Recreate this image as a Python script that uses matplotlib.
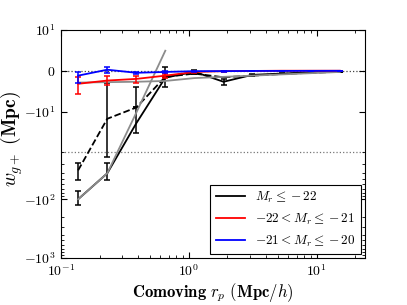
import numpy as np
import matplotlib
matplotlib.use("Agg")
import matplotlib.pyplot as plt
from matplotlib.ticker import FixedLocator, FixedFormatter, NullFormatter

plt.rcParams['mathtext.fontset'] = 'cm'
plt.rcParams['font.family'] = 'serif'
plt.rcParams['font.serif'] = ['DejaVu Serif']

# ---- data ----
r_p = [0.136, 0.230, 0.388, 0.655, 1.105, 1.87, 3.15, 5.32, 8.98, 15.2]

# M_r <= -22 (black, solid)
w_bright = [-100, -41, -12.2, -1.7, -0.25, -2.7, -1.0, -0.7, -0.4, -0.25]
w_bright_lo = [-126, -52, -14.5, -4.1, -0.5, -3.4, -1.3, -0.9, -0.55, -0.35]
w_bright_hi = [-76, -29, -3.9, 1.0, 0.1, -2.0, -0.7, -0.5, -0.25, -0.15]

# black dashed sample
w_dash = [-37, -11.3, -9.0, -1.5, -0.7, -1.6, -1.2, -0.8, -0.5, -0.25]
w_dash_lo = [-52, -23.7, -9.0, -1.5, -0.7, -1.6, -1.2, -0.8, -0.5, -0.25]
w_dash_hi = [-29, -2.9, -9.0, -1.5, -0.7, -1.6, -1.2, -0.8, -0.5, -0.25]

# -22 < M_r <= -21 (red)
w_mid = [-3.2, -2.4, -2.0, -1.2, -0.3, -0.1, -0.05, 0.0, 0.0, 0.0]
w_mid_lo = [-5.6, -3.4, -2.9, -1.7, -0.5, -0.2, -0.1, -0.05, -0.05, -0.05]
w_mid_hi = [-1.6, -1.4, -1.2, -0.7, -0.1, 0.0, 0.0, 0.05, 0.05, 0.05]

# -21 < M_r <= -20 (blue)
w_faint = [-1.2, 0.25, -0.5, -0.3, -0.1, -0.1, -0.05, -0.05, -0.03, -0.02]
w_faint_lo = [-2.9, -0.5, -0.8, -0.5, -0.2, -0.2, -0.1, -0.1, -0.08, -0.06]
w_faint_hi = [-0.24, 1.0, -0.2, -0.1, 0.0, 0.0, 0.0, 0.0, 0.02, 0.02]

# grey model curves
w_model_steep = [-100, -41, -10.2, 4.9]
w_model_flat = [-2.9, -2.8, -2.7, -2.5, -1.8, -1.5, -1.2, -0.9, -0.6, -0.3]

ytick_vals = [10, 0, -10, -100, -1000]
ytick_labels = [r'$10^{1}$', r'$0$', r'$-10^{1}$', r'$-10^{2}$', r'$-10^{3}$']
yminor_vals = [-20, -30, -40, -50, -60, -70, -80, -90,
               -200, -300, -400, -500, -600, -700, -800, -900]
xtick_vals = [0.1, 1, 10]
xtick_labels = [r'$10^{-1}$', r'$10^{0}$', r'$10^{1}$']

legend_labels = [r'$M_r \leq -22$', r'$-22 < M_r \leq -21$', r'$-21 < M_r \leq -20$']

# ---- symmetric-log-like y scale (linear inside +-10, log outside) ----
LIN = 10.0
LIN_PX = 41.0
LOG_PTS = np.array([1.0, np.log10(20.0), 2.0, 3.0, 4.0])
LOG_PX = np.array([0.0, 41.0, 88.0, 147.0, 206.0])


def fwd(y):
    y = np.asarray(y, dtype=float)
    a = np.abs(y)
    lg = np.log10(np.maximum(a, LIN))
    return np.where(a <= LIN, y * LIN_PX / LIN,
                    np.sign(y) * (LIN_PX + np.interp(lg, LOG_PTS, LOG_PX)))


def inv(u):
    u = np.asarray(u, dtype=float)
    a = np.abs(u)
    lg = np.interp(np.maximum(a - LIN_PX, 0.0), LOG_PX, LOG_PTS)
    return np.where(a <= LIN_PX, u * LIN / LIN_PX, np.sign(u) * 10 ** lg)


def errs(y, lo, hi):
    y = np.array(y, dtype=float)
    return [np.abs(y - np.array(lo)), np.abs(np.array(hi) - y)]


fig = plt.figure(figsize=(4.07, 3.05), dpi=100)
ax = fig.add_axes([0.150, 0.154, 0.747, 0.748])
ax.set_xscale('log')
ax.set_yscale('function', functions=(fwd, inv))

ax.axhline(0, color='#444444', ls=':', lw=0.9, zorder=1)
ax.axhline(-20, color='#777777', ls=':', lw=0.9, zorder=1)

eb_kw = dict(capsize=2.5, elinewidth=1.1, capthick=1.1, lw=1.3)
h_b = ax.errorbar(r_p, w_bright, yerr=errs(w_bright, w_bright_lo, w_bright_hi),
                  color='black', zorder=3, **eb_kw)
ax.errorbar(r_p, w_dash, yerr=errs(w_dash, w_dash_lo, w_dash_hi),
            color='black', ls='--', zorder=3, **eb_kw)
ax.plot(r_p[:4], w_model_steep, color='#8c8c8c', lw=1.3, zorder=4)
ax.plot(r_p, w_model_flat, color='#8c8c8c', lw=1.3, zorder=4)
h_r = ax.errorbar(r_p, w_mid, yerr=errs(w_mid, w_mid_lo, w_mid_hi),
                  color='red', zorder=5, **eb_kw)
h_f = ax.errorbar(r_p, w_faint, yerr=errs(w_faint, w_faint_lo, w_faint_hi),
                  color='blue', zorder=6, **eb_kw)

ax.set_xlim(0.1, 24)
ax.set_ylim(-1000, 10)

ax.yaxis.set_major_locator(FixedLocator(ytick_vals))
ax.yaxis.set_major_formatter(FixedFormatter(ytick_labels))
ax.yaxis.set_minor_locator(FixedLocator(yminor_vals))
ax.xaxis.set_major_locator(FixedLocator(xtick_vals))
ax.xaxis.set_major_formatter(FixedFormatter(xtick_labels))
ax.xaxis.set_minor_formatter(NullFormatter())
ax.tick_params(which='both', direction='in', top=True, right=True, labelsize=10)
ax.tick_params(which='major', length=4, pad=4)
ax.tick_params(which='minor', length=2)

ax.set_xlabel(r'$\mathbf{Comoving}\ r_p\ \mathbf{(Mpc}/h\mathbf{)}$', fontsize=12, labelpad=1)
ax.set_ylabel(r'$w_{g+}\ \mathbf{(Mpc)}$', fontsize=14)
ax.yaxis.set_label_coords(-0.118, 0.52)

leg = ax.legend([h_b[0], h_r[0], h_f[0]], legend_labels, loc='lower right',
                fontsize=9.5, fancybox=False, framealpha=1, edgecolor='black',
                handlelength=2.2, borderaxespad=0.3)
leg.get_frame().set_linewidth(0.8)

fig.savefig('out.png', dpi=100)
